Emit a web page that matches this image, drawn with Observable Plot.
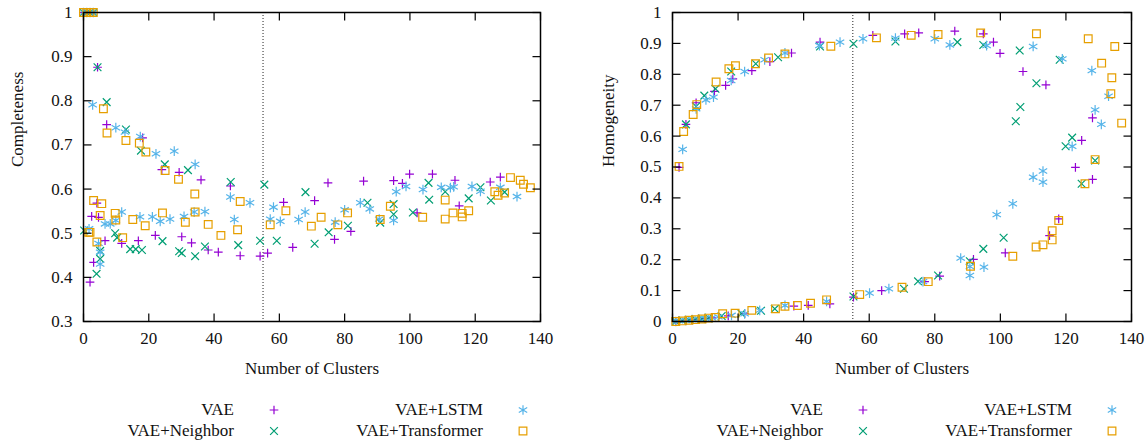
<!DOCTYPE html>
<html><head><meta charset="utf-8">
<script src="https://cdn.jsdelivr.net/npm/d3@7"></script>
<script src="https://cdn.jsdelivr.net/npm/@observablehq/plot@0.6"></script>
<style>
body{margin:0;background:#fff;font-family:"Liberation Serif",serif;color:#111;}
#wrap{display:flex;width:1147px;}
.panel{position:relative;}
.legend{position:relative;height:51px;font-size:17px;}
.legend span.t{position:absolute;white-space:nowrap;transform:translate(-100%,-50%);}
.legend svg{position:absolute;overflow:visible;}
</style></head><body><div id="wrap"></div><script>
// ---------- data ----------
const seriesNames = ["VAE", "VAE+Neighbor", "VAE+LSTM", "VAE+Transformer"];
const seriesColors = ["#9400d3", "#009e73", "#56b4e9", "#e69f00"];
const xTicks = [0, 20, 40, 60, 80, 100, 120, 140];
const compTicks = [0.3, 0.4, 0.5, 0.6, 0.7, 0.8, 0.9, 1];
const homTicks = [0, 0.1, 0.2, 0.3, 0.4, 0.5, 0.6, 0.7, 0.8, 0.9, 1];
const splitX = [55];

// Completeness (left panel)
const compVAE = [[0,1],[1,1],[2,1],[3,1],[4.3,0.876],[7.1,0.746],[18.1,0.716],[24,0.644],[29.3,0.638],[36,0.621],[45,0.607],
 [2,0.389],[3.1,0.434],[4.1,0.568],[2.5,0.538],[4.6,0.536],[6.6,0.483],[11.7,0.477],[16.8,0.483],[22,0.495],[30.1,0.492],[33.1,0.478],
 [38.2,0.462],[41.3,0.457],[48,0.449],[54.1,0.448],[56.4,0.455],[61.3,0.570],[64.1,0.468],[70.8,0.574],[74.9,0.614],[76.9,0.486],
 [81.9,0.504],[85.8,0.618],[95,0.619],[97.7,0.613],[99.9,0.634],[102.2,0.546],[106.9,0.634],[113.8,0.620],[115.1,0.562],[124.6,0.616],[127.7,0.627]];
const compNeighbor = [[0,1],[1,1],[2,1],[3,1],[0.2,0.506],[4.3,0.876],[7.1,0.797],[13,0.735],[17.6,0.687],[24.9,0.656],[32,0.643],[45.1,0.616],[55.4,0.610],
 [4,0.408],[5.1,0.442],[5.1,0.46],[9.7,0.50],[10.3,0.49],[14.3,0.464],[16,0.464],[17.9,0.462],[24.2,0.482],[29.3,0.459],[30.1,0.455],
 [34.2,0.448],[37.2,0.470],[47.4,0.473],[54.1,0.483],[59.2,0.483],[68,0.593],[70.8,0.476],[75.1,0.502],[81,0.517],[87,0.569],[90.9,0.524],
 [95,0.566],[95,0.543],[100.9,0.547],[105.7,0.614],[105.9,0.576],[110.8,0.594],[118,0.579],[121.6,0.604],[124.8,0.574],[129,0.593]];
const compLSTM = [[0,1],[1,1],[2,1],[3,1],[2.8,0.791],[9.9,0.739],[12.7,0.729],[17.4,0.719],[22.2,0.680],[27.8,0.686],[34.2,0.656],[45,0.582],[51,0.569],[58.2,0.559],
 [1.7,0.510],[4.6,0.477],[5.1,0.457],[5.1,0.430],[6.6,0.521],[8.2,0.521],[9.9,0.529],[11.7,0.548],[17.3,0.537],[21.1,0.537],[23.5,0.527],
 [26.5,0.532],[30.8,0.538],[33.9,0.548],[37.2,0.549],[46.2,0.531],[57.2,0.532],[60.3,0.527],[65.9,0.531],[67.9,0.548],[77.1,0.525],[80,0.553],
 [84.8,0.569],[87.7,0.555],[90.6,0.532],[95,0.529],[95.8,0.594],[98.8,0.606],[104,0.599],[109.6,0.604],[112.4,0.603],[113.4,0.605],[119,0.606],
 [121.6,0.595],[127.7,0.604],[132.8,0.583]];
const compTransformer = [[0,1],[1,1],[2,1],[3,1],[6.1,0.782],[7.2,0.727],[13,0.710],[17.1,0.704],[19.1,0.684],[25,0.642],[29.1,0.622],[34.1,0.589],[48,0.572],[62,0.551],
 [3.1,0.574],[5.6,0.567],[5.1,0.540],[2,0.502],[1.6,0.502],[4.1,0.480],[9.7,0.545],[9.9,0.53],[12,0.49],[15.1,0.531],[18.9,0.517],[24.2,0.546],
 [31.2,0.525],[34.2,0.548],[38.2,0.520],[42.1,0.495],[47.2,0.508],[57.2,0.519],[69.8,0.516],[72.8,0.536],[77.9,0.519],[80.9,0.546],[90.9,0.531],
 [94,0.561],[103.9,0.536],[110.8,0.575],[110.8,0.532],[113.2,0.546],[116,0.537],[116,0.545],[118,0.551],[126,0.594],[127,0.586],[129,0.591],
 [130.8,0.626],[133.8,0.620],[134.8,0.611],[136.9,0.603]];

// Homogeneity (right panel)
const homVAE = [[2,0.499],[4.1,0.638],[7.2,0.708],[12.8,0.745],[16.2,0.764],[18.4,0.785],[24.2,0.812],[29.7,0.841],[36.3,0.869],[45,0.904],
 [61.1,0.926],[70.8,0.931],[75.1,0.934],[86.1,0.940],[94.8,0.931],[97.9,0.904],[99.9,0.868],[106.9,0.809],[113.9,0.766],[128.1,0.659],
 [124.8,0.586],[122.9,0.499],[128.1,0.460],[117.8,0.332],[115,0.278],[101.5,0.222],[91.8,0.201],[81.5,0.147],[76.9,0.129],[63.8,0.100],
 [55.2,0.079],[48,0.057],[41.4,0.052],[37,0.050],[22,0.025],[17,0.018],[12,0.012],[10,0.010],[8,0.008],[6,0.006],[4,0.004],[2,0.002],[1,0]];
const homNeighbor = [[4.1,0.638],[7.2,0.696],[9.7,0.731],[13.1,0.753],[17.9,0.809],[25.4,0.834],[32.2,0.855],[45,0.890],[55.2,0.899],
 [68,0.906],[86.9,0.904],[94.8,0.895],[105.9,0.877],[111,0.771],[118.1,0.847],[106.1,0.694],[104.7,0.648],[121.9,0.595],[119.9,0.567],
 [128.9,0.521],[124.8,0.446],[101,0.271],[94.8,0.235],[90.7,0.195],[81,0.149],[74.9,0.130],[70.6,0.106],[55.2,0.081],[31.2,0.041],
 [27,0.035],[21,0.026],[15,0.018],[11,0.012],[9,0.009],[7,0.007],[5,0.005],[3,0.003],[1,0]];
const homLSTM = [[3.1,0.557],[7.2,0.688],[10.2,0.717],[12.5,0.726],[17.9,0.780],[22,0.809],[28.1,0.847],[34.3,0.869],[44.8,0.893],[51.1,0.904],
 [58.1,0.915],[68,0.917],[80,0.915],[84.6,0.895],[95.8,0.893],[110,0.890],[118.9,0.850],[127.9,0.812],[133,0.729],[128.9,0.685],[130.8,0.638],
 [121.9,0.567],[110,0.467],[113,0.487],[113,0.451],[103.8,0.381],[98.9,0.346],[87.9,0.205],[90.7,0.178],[95,0.176],[90.7,0.149],[76.4,0.129],
 [66,0.106],[60.1,0.092],[47,0.065],[34.3,0.052],[26.6,0.036],[22,0.025],[18,0.020],[14,0.015],[12,0.012],[10,0.010],[8,0.008],[6,0.006],[4,0.004],[2,0.002],[1,0]];
const homTransformer = [[2,0.502],[3.4,0.615],[6.3,0.670],[7.4,0.702],[13.3,0.775],[17.2,0.818],[19.2,0.828],[25.3,0.834],[29.3,0.853],[34.3,0.866],
 [48.3,0.891],[62.2,0.918],[72.8,0.926],[81,0.929],[94,0.934],[111,0.931],[126.8,0.915],[134.9,0.890],[130.9,0.836],[134,0.789],[133.7,0.737],
 [137,0.642],[128.9,0.524],[125.8,0.446],[117.8,0.327],[115.8,0.294],[115.8,0.264],[113,0.248],[110.9,0.241],[103.8,0.211],[90.9,0.179],
 [78,0.129],[70,0.111],[57.1,0.087],[47,0.070],[42.1,0.059],[38.1,0.052],[34.3,0.049],[31.4,0.041],[24.2,0.036],[19.1,0.027],[15.3,0.025],
 [13,0.013],[11,0.011],[9,0.008],[7,0.006],[5,0.004],[3,0.002],[1,0]];

// ---------- drawing ----------
const FONT = "Liberation Serif";
const symbols = ["plus", "times", "asterisk", "square2"];
const symR = [2.9, 3.6, 4.6, 4.9];
const d3Sym = [d3.symbolPlus, d3.symbolTimes, d3.symbolAsterisk, d3.symbolSquare2];
const TL = 8;
const tickUp = {draw(c){c.moveTo(0,0);c.lineTo(0,-TL);}};
const tickDown = {draw(c){c.moveTo(0,0);c.lineTo(0,TL);}};
const tickRight = {draw(c){c.moveTo(0,0);c.lineTo(TL,0);}};
const tickLeft = {draw(c){c.moveTo(0,0);c.lineTo(-TL,0);}};
const fmt = d => String(+d.toFixed(1));

function panel(seriesData, yDomain, yTicks, yLabel, width, mL, mR, labelDx) {
  const marks = [
    Plot.ruleX(splitX, {stroke: "#222", strokeDasharray: "1,2", strokeWidth: 1}),
  ];
  seriesData.forEach((data, i) => {
    marks.push(Plot.dot(data, {x: d => d[0], y: d => d[1], symbol: symbols[i], r: symR[i],
      stroke: seriesColors[i], fill: "none", strokeWidth: 1.2}));
  });
  marks.push(
    Plot.frame({stroke: "black", strokeWidth: 1.5}),
    Plot.dot(xTicks, {x: d => d, frameAnchor: "bottom", symbol: tickUp, stroke: "black", fill: "none", strokeWidth: 1.2}),
    Plot.dot(xTicks, {x: d => d, frameAnchor: "top", symbol: tickDown, stroke: "black", fill: "none", strokeWidth: 1.2}),
    Plot.dot(yTicks, {y: d => d, frameAnchor: "left", symbol: tickRight, stroke: "black", fill: "none", strokeWidth: 1.2}),
    Plot.dot(yTicks, {y: d => d, frameAnchor: "right", symbol: tickLeft, stroke: "black", fill: "none", strokeWidth: 1.2}),
    Plot.axisX(xTicks, {tickSize: 0, tickPadding: 10, tickFormat: fmt, label: null}),
    Plot.axisY(yTicks, {tickSize: 0, tickPadding: 11, tickFormat: fmt, label: null}),
    Plot.text(["Number of Clusters"], {text: d => d, frameAnchor: "bottom", dy: 52, fontSize: 17}),
    Plot.text([yLabel], {text: d => d, frameAnchor: "left", rotate: -90, dx: labelDx, fontSize: 17})
  );
  return Plot.plot({
    width, height: 390, marginLeft: mL, marginRight: mR, marginTop: 12, marginBottom: 69,
    x: {domain: [0, 140]},
    y: {domain: yDomain},
    style: {fontFamily: FONT, fontSize: "17px", background: "white", color: "#111"},
    marks
  });
}

function legend(frameLeft) {
  const div = document.createElement("div");
  div.className = "legend";
  const cols = [[frameLeft + 151, frameLeft + 191], [frameLeft + 400, frameLeft + 440]];
  const rows = [20, 41];
  const order = [[0, 0, 0], [2, 0, 1], [1, 1, 0], [3, 1, 1]]; // [series, row, col]
  for (const [s, r, c] of order) {
    const t = document.createElement("span");
    t.className = "t";
    t.textContent = seriesNames[s];
    t.style.left = cols[c][0] + "px";
    t.style.top = rows[r] + "px";
    div.appendChild(t);
    const svg = d3.create("svg").attr("width", 1).attr("height", 1)
      .style("left", cols[c][1] + "px").style("top", rows[r] + "px");
    svg.append("path").attr("d", d3.symbol(d3Sym[s], Math.PI * symR[s] * symR[s])())
      .attr("fill", "none").attr("stroke", seriesColors[s]).attr("stroke-width", 1.2);
    div.appendChild(svg.node());
  }
  return div;
}

const wrap = document.getElementById("wrap");
const p1 = document.createElement("div"); p1.className = "panel"; p1.style.width = "573px";
p1.appendChild(panel([compVAE, compNeighbor, compLSTM, compTransformer], [0.3, 1], compTicks, "Completeness", 573, 83, 33, -66));
p1.appendChild(legend(83));
const p2 = document.createElement("div"); p2.className = "panel"; p2.style.width = "574px";
p2.appendChild(panel([homVAE, homNeighbor, homLSTM, homTransformer], [0, 1], homTicks, "Homogeneity", 574, 99, 16, -64));
p2.appendChild(legend(99));
wrap.appendChild(p1); wrap.appendChild(p2);
</script></body></html>
